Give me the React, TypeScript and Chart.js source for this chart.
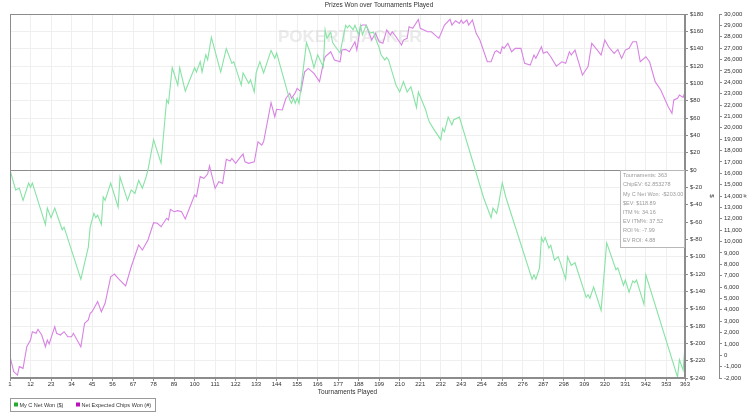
import React, { useEffect, useRef } from 'react';
import { Chart, registerables } from 'chart.js';

Chart.register(...registerables);

const chartTitle = 'Prizes Won over Tournaments Played';
const xTitle = 'Tournaments Played';
const xTickValues = [1, 12, 23, 34, 45, 56, 67, 78, 89, 100, 111, 122, 133, 144, 155, 166, 177, 188, 199, 210, 221, 232, 243, 254, 265, 276, 287, 298, 309, 320, 331, 342, 353, 363];

const netWonLabel = 'My C Net Won ($)';
const netWonT = [1, 4, 6, 8, 11, 12, 13, 20, 21, 23, 25, 29, 30, 39, 43, 44, 46, 47, 48, 50, 51, 52, 55, 59, 60, 64, 66, 68, 70, 72, 74, 75, 78, 82, 85, 86, 88, 91, 92, 95, 100, 101, 103, 104, 106, 107, 109, 114, 117, 120, 121, 125, 126, 129, 130, 132, 133, 135, 137, 141, 143, 144, 151, 152, 153, 154, 155, 156, 160, 162, 164, 166, 169, 170, 171, 173, 174, 178, 181, 182, 183, 185, 186, 188, 189, 190, 192, 194, 196, 197, 199, 200, 202, 203, 204, 208, 210, 212, 214, 216, 219, 220, 224, 225, 226, 228, 232, 233, 234, 236, 238, 239, 242, 255, 259, 260, 262, 263, 265, 267, 281, 282, 283, 285, 286, 287, 288, 290, 291, 293, 295, 296, 299, 300, 302, 304, 310, 311, 312, 314, 318, 321, 326, 327, 330, 331, 333, 335, 336, 337, 341, 342, 359, 360, 362, 363];
const netWonUsd = [0, -23, -21, -35, -15, -20, -15, -63, -44, -55, -44, -69, -66, -126, -89, -66, -50, -55, -52, -63, -31, -35, -15, -43, -8, -35, -23, -27, -12, -21, -8, 0, 35, 8, 81, 77, 118, 98, 118, 91, 118, 113, 125, 113, 133, 127, 153, 113, 140, 123, 125, 98, 112, 100, 104, 90, 112, 125, 112, 138, 129, 135, 81, 77, 83, 77, 83, 77, 147, 135, 118, 133, 119, 162, 152, 159, 147, 135, 167, 164, 167, 162, 167, 156, 167, 156, 167, 158, 159, 152, 141, 133, 127, 130, 127, 98, 90, 102, 90, 96, 72, 90, 69, 61, 55, 48, 35, 48, 44, 61, 52, 58, 61, -32, -55, -44, -50, -40, -15, -32, -126, -121, -126, -113, -78, -83, -78, -90, -87, -104, -100, -106, -126, -100, -110, -107, -147, -144, -148, -135, -162, -84, -115, -113, -133, -127, -141, -128, -130, -127, -155, -121, -239, -219, -231, -203];

const chipsLabel = 'Net Expected Chips Won (#)';
const chipsT = [1, 3, 5, 6, 8, 10, 12, 13, 15, 16, 18, 20, 21, 22, 25, 26, 28, 30, 32, 34, 35, 39, 41, 43, 44, 45, 48, 50, 52, 55, 57, 59, 63, 66, 70, 72, 74, 75, 78, 80, 82, 85, 86, 87, 89, 91, 93, 95, 100, 101, 103, 105, 107, 108, 111, 113, 115, 117, 119, 120, 122, 124, 126, 127, 129, 132, 134, 136, 137, 141, 143, 144, 147, 149, 151, 152, 154, 155, 157, 159, 161, 164, 167, 169, 170, 173, 175, 178, 179, 181, 183, 186, 187, 189, 190, 192, 195, 197, 199, 201, 203, 205, 206, 208, 211, 212, 214, 215, 217, 220, 221, 225, 227, 229, 231, 234, 237, 238, 240, 242, 243, 244, 246, 247, 249, 251, 253, 257, 259, 261, 262, 264, 265, 266, 268, 270, 272, 275, 277, 280, 282, 283, 286, 287, 289, 291, 294, 297, 299, 301, 302, 304, 308, 311, 313, 316, 318, 320, 322, 325, 327, 329, 331, 333, 335, 337, 339, 342, 344, 347, 350, 354, 356, 357, 359, 360, 362, 363];
const chipsWon = [-100, -1450, -1740, -1000, -1150, 750, 1340, 2070, 1930, 2280, 1780, 750, 1340, 990, 2510, 1930, 1780, 2070, 1630, 1630, 1930, 750, 2810, 3100, 3690, 3830, 4710, 3830, 4570, 6900, 7140, 6760, 6090, 7780, 9690, 9250, 9840, 10130, 11650, 11600, 11300, 12040, 11890, 12830, 12620, 12710, 12620, 11980, 14090, 13940, 15700, 15550, 15930, 16640, 14680, 15260, 15110, 17220, 17070, 17310, 16870, 17310, 17690, 17010, 16870, 17010, 18770, 18480, 18770, 22200, 20970, 21620, 21560, 22590, 23030, 22590, 23080, 23460, 23170, 24920, 25220, 24780, 24050, 25660, 26240, 26680, 25950, 25800, 26830, 26890, 26680, 27560, 26830, 28940, 29030, 29030, 27710, 28300, 27560, 27420, 28590, 28150, 28440, 28000, 27270, 27710, 27860, 28880, 28740, 29530, 28740, 28440, 28440, 28150, 27860, 29030, 29530, 29030, 29410, 29180, 29470, 29180, 29470, 29030, 29470, 28300, 27710, 25800, 25800, 26680, 26770, 26540, 27120, 26980, 27420, 26680, 26980, 26980, 25660, 25510, 26390, 26100, 27120, 26540, 26680, 26240, 25420, 25800, 25660, 26680, 26390, 26830, 24630, 25370, 27420, 26830, 26390, 27710, 27120, 26540, 26890, 26100, 26830, 26980, 27560, 27560, 25800, 26240, 25800, 24050, 23320, 21850, 21270, 22440, 22590, 22880, 22670, 23150];

const summaryLines = [
  'Tournaments: 363',
  'ChipEV: 62.853278',
  'My C Net Won: -$203.00',
  '$EV: $118.89',
  'ITM %: 34.16',
  'EV ITM%: 37.52',
  'ROI %: -7.99',
  'EV ROI: 4.88',
];

const watermark = 'POKERTRACKER';
const FONT = '"Liberation Sans", Arial, sans-serif';

const extras = {
  id: 'extras',
  beforeDatasetsDraw(chart: any) {
    const { ctx, chartArea } = chart;
    ctx.save();
    ctx.font = `bold 17px ${FONT}`;
    ctx.fillStyle = 'rgba(205,205,205,0.4)';
    ctx.textBaseline = 'middle';
    ctx.textAlign = 'left';
    ctx.fillText(watermark, chartArea.left + 268, chartArea.top + 23);
    ctx.restore();
  },
  afterDraw(chart: any) {
    const { ctx, chartArea } = chart;
    ctx.save();
    // plot border
    ctx.strokeStyle = '#8c8c8c';
    ctx.lineWidth = 1;
    ctx.strokeRect(chartArea.left + 0.5, chartArea.top + 0.5, chartArea.right - chartArea.left - 1, chartArea.bottom - chartArea.top - 1);

    // summary box
    const bx = chartArea.right - 65;
    const by = chartArea.top + 156;
    ctx.fillStyle = '#ffffff';
    ctx.fillRect(bx, by, 65, 78);
    ctx.strokeStyle = '#b8b8b8';
    ctx.strokeRect(bx + 0.5, by + 0.5, 64, 77);
    ctx.font = `5.5px ${FONT}`;
    ctx.fillStyle = '#9a9a9a';
    ctx.textBaseline = 'middle';
    ctx.textAlign = 'left';
    summaryLines.forEach((s, i) => ctx.fillText(s, bx + 3, by + 5.7 + i * 9.2));

    // legend
    const lx = chartArea.left;
    const ly = chartArea.bottom + 20;
    ctx.strokeStyle = '#9a9a9a';
    ctx.strokeRect(lx + 0.5, ly + 0.5, 145, 13);
    ctx.font = `5.5px ${FONT}`;
    ctx.fillStyle = '#22aa33';
    ctx.fillRect(lx + 4, ly + 4.5, 4, 4);
    ctx.fillStyle = '#333333';
    ctx.fillText(netWonLabel, lx + 9.5, ly + 7);
    ctx.fillStyle = '#bb11bb';
    ctx.fillRect(lx + 66, ly + 4.5, 4, 4);
    ctx.fillStyle = '#333333';
    ctx.fillText(chipsLabel, lx + 71.5, ly + 7);
    ctx.restore();
  },
};

export default function App() {
  const ref = useRef<HTMLCanvasElement>(null);
  useEffect(() => {
    Chart.defaults.font.family = FONT;
    const chart = new Chart(ref.current as HTMLCanvasElement, {
      type: 'line',
      data: {
        datasets: [
          {
            label: netWonLabel,
            data: netWonT.map((t, i) => ({ x: t, y: netWonUsd[i] })),
            borderColor: '#86e3a4',
            backgroundColor: '#86e3a4',
            borderWidth: 1.1,
            pointRadius: 0,
            tension: 0,
            yAxisID: 'y',
          },
          {
            label: chipsLabel,
            data: chipsT.map((t, i) => ({ x: t, y: chipsWon[i] })),
            borderColor: '#d883e3',
            backgroundColor: '#d883e3',
            borderWidth: 1.1,
            pointRadius: 0,
            tension: 0,
            yAxisID: 'y2',
          },
        ],
      },
      options: {
        animation: false,
        responsive: false,
        layout: { padding: { left: 10, right: 0, top: 0, bottom: 21 } },
        plugins: {
          legend: { display: false },
          tooltip: { enabled: false },
          title: {
            display: true,
            text: chartTitle,
            color: '#333333',
            font: { size: 6.5, weight: 'normal', family: FONT },
            padding: { top: 1, bottom: 5.2 },
          },
        },
        scales: {
          x: {
            type: 'linear',
            min: 1,
            max: 363,
            afterBuildTicks: (s: any) => {
              s.ticks = xTickValues.map((v) => ({ value: v }));
            },
            afterFit: (s: any) => {
              s.height = 19;
            },
            ticks: {
              autoSkip: false,
              maxRotation: 0,
              padding: 0,
              color: '#333333',
              font: { size: 6, family: FONT },
            },
            grid: { color: '#efefef', tickColor: '#8c8c8c', tickLength: 3 },
            border: { color: '#8c8c8c' },
            title: {
              display: true,
              text: xTitle,
              color: '#333333',
              font: { size: 6.5, family: FONT },
              padding: { top: 0, bottom: 0.5 },
            },
          },
          y: {
            type: 'linear',
            position: 'right',
            min: -240,
            max: 180,
            afterFit: (s: any) => {
              s.width = 34;
            },
            ticks: {
              stepSize: 20,
              autoSkip: false,
              padding: 2,
              color: '#333333',
              font: { size: 6, family: FONT },
              callback: (v: any) => '$' + v,
            },
            grid: {
              color: (c: any) => (c.tick && c.tick.value === 0 ? '#8c8c8c' : '#efefef'),
              tickColor: '#8c8c8c',
              tickLength: 3,
            },
            border: { color: '#8c8c8c' },
            title: {
              display: true,
              text: '$',
              color: '#333333',
              font: { size: 6, family: FONT },
              padding: { top: 4, bottom: 0 },
            },
          },
          y2: {
            type: 'linear',
            position: 'right',
            min: -2000,
            max: 30000,
            afterFit: (s: any) => {
              s.width = 29;
            },
            ticks: {
              stepSize: 1000,
              autoSkip: false,
              padding: 2,
              color: '#333333',
              font: { size: 6, family: FONT },
              callback: (v: any) => Number(v).toLocaleString('en-US'),
            },
            grid: { drawOnChartArea: false, color: '#8c8c8c', tickColor: '#8c8c8c', tickLength: 3 },
            border: { color: '#8c8c8c' },
            title: {
              display: true,
              text: '#',
              color: '#333333',
              font: { size: 6, family: FONT },
              padding: { top: 0, bottom: 0 },
            },
          },
        },
      } as any,
      plugins: [extras],
    });
    return () => chart.destroy();
  }, []);
  return (
    <div style={{ position: 'absolute', left: 0, top: 0, width: 748, height: 418, background: '#fff' }}>
      <canvas ref={ref} width={748} height={418} style={{ width: 748, height: 418, display: 'block' }} />
    </div>
  );
}
